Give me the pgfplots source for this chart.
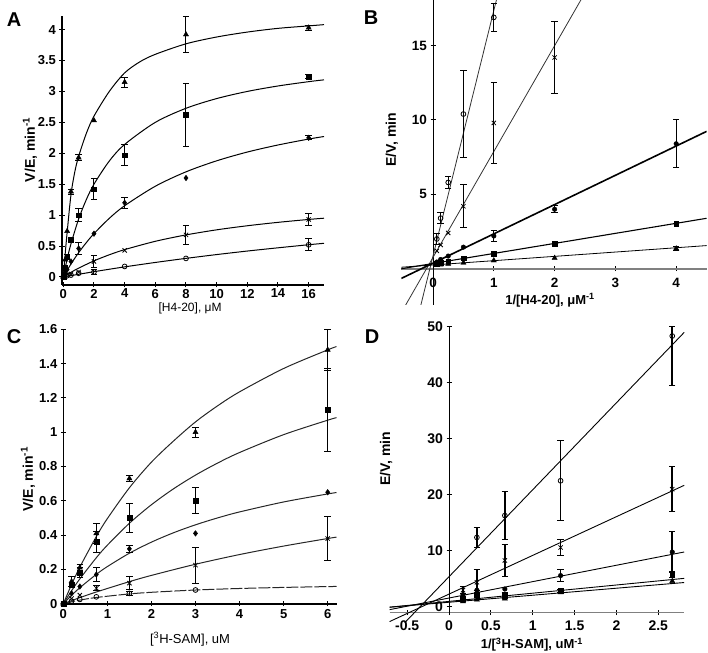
\documentclass[border=0pt]{standalone}
\usepackage{pgfplots}
\pgfplotsset{compat=1.18}
\usepackage{fontspec}
\setmainfont{Liberation Sans}
\pgfplotsset{
  panel/.style={scale only axis, anchor=south west,
    /pgf/number format/assume math mode=true,
    axis line style={-, line width=1.1pt, black},
    tick style={line width=1pt, black}, major tick length=5pt, tick align=outside,
    hide obscured x ticks=false, hide obscured y ticks=false,
  },
  noarrows/.style={every inner x axis line/.append style={-}, every inner y axis line/.append style={-},
    every outer x axis line/.append style={-}, every outer y axis line/.append style={-}},
  errs/.style={only marks, error bars/y dir=both, error bars/y explicit,
    error bars/error bar style={line width=1pt, black},
    error bars/error mark options={line width=1pt, mark size=3.2pt, black, rotate=90}},
  tri/.style={mark=triangle*, mark size=3pt, mark options={fill=black, solid}},
  sq/.style={mark=square*, mark size=2.4pt, mark options={fill=black, solid}},
  dia/.style={mark=diamond*, mark size=2.8pt, mark options={fill=black, solid}},
  dot/.style={mark=*, mark size=2.3pt, mark options={fill=black, solid}},
  xx/.style={mark=x, mark size=3pt, mark options={line width=0.8pt, solid}},
  cir/.style={mark=o, mark size=2.4pt, mark options={fill=white, line width=0.8pt, solid}},
  fit/.style={no marks, smooth, black, line width=1pt},
  seg/.style={no marks, black, line width=0.9pt},
}
\begin{document}
\begin{tikzpicture}[x=1pt,y=1pt]
% ---------------- Panel A ----------------
\begin{axis}[panel, at={(62pt,367pt)}, width=262pt, height=269pt,
  xmin=-0.085, xmax=17, ymin=-0.13, ymax=4.22,
  axis x line=bottom, axis y line=left, noarrows,
  xtick={0,2,4,6,8,10,12,14,16}, xticklabels={0,2,4,6,8,10,12,14,16},
  ytick={0,0.5,1,1.5,2,2.5,3,3.5,4}, yticklabels={0,0.5,1,1.5,2,2.5,3,3.5,4},
  tick label style={font=\bfseries\fontsize{13}{13}\selectfont},
  xticklabel style={yshift=2pt},
  xlabel={[H4-20], μM},
  xlabel style={at={(axis description cs:0.489,-0.088)}, anchor=center, font=\fontsize{12}{12}\selectfont},
  ylabel={V/E, min\textsuperscript{-1}},
  ylabel style={at={(axis description cs:-0.122,0.502)}, anchor=center, font=\bfseries\fontsize{14}{14}\selectfont},
]
\addplot[fit] coordinates {(0,0) (0.125,0.38) (0.25,0.72) (0.5,1.33) (0.75,1.7) (1,1.95) (1.5,2.32) (2,2.6) (3,3.0) (4,3.3) (5,3.48) (6,3.6) (8,3.77) (10,3.88) (12,3.96) (14,4.02) (16,4.06) (17,4.08)};
\addplot[fit] coordinates {(0,0) (0.25,0.2885) (0.5,0.5357) (1,0.9375) (1.5,1.25) (2,1.5) (3,1.875) (4,2.1429) (6,2.5) (8,2.7273) (10,2.8846) (12,3.0) (14,3.0882) (16,3.1579) (17,3.1875)};
\addplot[fit] coordinates {(0,0) (0.5,0.209) (1,0.393) (1.5,0.555) (2,0.7005) (3,0.948) (4,1.152) (6,1.467) (8,1.70) (10,1.878) (12,2.02) (14,2.134) (16,2.23) (17,2.271)};
\addplot[fit] coordinates {(0,0) (0.5,0.075) (1,0.1427) (2,0.260) (3,0.3585) (4,0.442) (6,0.5765) (8,0.680) (10,0.762) (12,0.828) (14,0.883) (16,0.930) (17,0.950)};
\addplot[fit] coordinates {(0,0) (2,0.085) (4,0.163) (6,0.2345) (8,0.3006) (10,0.362) (12,0.419) (14,0.4713) (16,0.521) (17,0.5443)};
% triangles
\addplot[errs,tri] coordinates {(0.5,1.38) +- (0,0.04) (1,1.93) +- (0,0.05) (4,3.15) +- (0,0.08) (8,3.92) +- (0,0.29) (16,4.03) +- (0,0.04)};
\addplot[only marks,tri] coordinates {(0,0) (0.125,0.28) (0.25,0.74) (2,2.53)};
% squares
\addplot[errs,sq] coordinates {(0.25,0.33) +- (0,0.04) (1,1.0) +- (0,0.1) (2,1.42) +- (0,0.17) (4,1.97) +- (0,0.17) (8,2.62) +- (0,0.51) (16,3.24) +- (0,0.03)};
\addplot[only marks,sq] coordinates {(0,0) (0.125,0.15) (0.5,0.6)};
% diamonds
\addplot[errs,dia] coordinates {(1,0.46) +- (0,0.09) (4,1.2) +- (0,0.09) (16,2.25) +- (0,0.03)};
\addplot[only marks,dia] coordinates {(0,0) (0.125,0.07) (0.25,0.12) (0.5,0.25) (2,0.7) (8,1.6)};
% crosses
\addplot[errs,xx] coordinates {(2,0.25) +- (0,0.1) (8,0.68) +- (0,0.15) (16,0.93) +- (0,0.09)};
\addplot[only marks,xx] coordinates {(0,0) (0.125,0.03) (0.25,0.04) (0.5,0.05) (1,0.08) (4,0.43)};
% circles
\addplot[errs,cir] coordinates {(2,0.08) +- (0,0.04) (16,0.52) +- (0,0.1)};
\addplot[only marks,cir] coordinates {(0,0) (0.25,0.02) (0.5,0.03) (1,0.06) (4,0.17) (8,0.3)};
\end{axis}
% ---------------- Panel B ----------------
\begin{axis}[panel, at={(401.4pt,347pt)}, width=305.2pt, height=305pt,
  xmin=-0.52, xmax=4.5, ymin=-2.44, ymax=18.07, axis lines=middle, noarrows,
  x axis line style={gray, line width=1.6pt},
  y axis line style={line width=0.9pt},
  xtick={0,1,2,3,4}, xticklabels={0,1,2,3,4},
  ytick={5,10,15}, yticklabels={5,10,15},
  tick label style={font=\bfseries\fontsize{13.5}{13.5}\selectfont},
  xticklabel style={yshift=-3pt},
  xlabel={1/[H4-20], μM\textsuperscript{-1}},
  xlabel style={at={(axis description cs:0.487,0.016)}, anchor=center, font=\bfseries\fontsize{13}{13}\selectfont},
  ylabel={E/V, min},
  ylabel style={at={(axis description cs:-0.031,0.541)}, anchor=center, rotate=90, font=\bfseries\fontsize{14}{14}\selectfont},
]
\addplot[seg, black!80, line width=0.8pt] coordinates {(-0.2,-2.44) (1.05,18.19)};
\addplot[seg, black!80, line width=0.8pt] coordinates {(-0.45,-2.44) (2.45,18.2)};
\addplot[seg, line width=1.6pt] coordinates {(-0.52,-0.65) (4.5,9.235)};
\addplot[seg, line width=1.1pt] coordinates {(-0.52,0.0) (4.5,3.39)};
\addplot[seg, line width=0.8pt] coordinates {(-0.52,0.1) (4.5,1.555)};
% circles
\addplot[errs,cir] coordinates {(0.0625,2.0) +- (0,0.35) (0.125,3.4) +- (0,0.35) (0.25,5.8) +- (0,0.4) (0.5,10.4) +- (0,2.95) (1,16.9) +- (0,0.95)};
% crosses
\addplot[errs,xx] coordinates {(0.5,4.2) +- (0,1.45) (1,9.8) +- (0,2.7) (2,14.2) +- (0,2.4)};
\addplot[only marks,xx] coordinates {(0.0625,1.2) (0.125,1.6) (0.25,2.4)};
% filled circles
\addplot[errs,dot] coordinates {(1,2.2) +- (0,0.4) (2,4.0) +- (0,0.25) (4,8.4) +- (0,1.6)};
\addplot[only marks,dot] coordinates {(0.0625,0.45) (0.125,0.62) (0.25,0.85) (0.5,1.45)};
% squares
\addplot[only marks,sq] coordinates {(0.0625,0.31) (0.125,0.38) (0.25,0.5) (0.5,0.7) (1,1.0) (2,1.67) (4,3.0)};
% triangles
\addplot[errs,tri] coordinates {(4,1.35) +- (0,0.12)};
\addplot[only marks,tri] coordinates {(0.0625,0.25) (0.125,0.27) (0.25,0.32) (0.5,0.4) (1,0.55) (2,0.72)};
\end{axis}
% ---------------- Panel C ----------------
\begin{axis}[panel, at={(63.3pt,48.3pt)}, width=273.2pt, height=274.4pt,
  xmin=0, xmax=6.2, ymin=0, ymax=1.6,
  axis x line=bottom, axis y line=left, noarrows,
  x axis line style={line width=2pt},
  xtick={0,1,2,3,4,5,6}, xticklabels={0,1,2,3,4,5,6},
  ytick={0,0.2,0.4,0.6,0.8,1,1.2,1.4,1.6}, yticklabels={0,0.2,0.4,0.6,0.8,1,1.2,1.4,1.6},
  tick label style={font=\bfseries\fontsize{13}{13}\selectfont},
  xlabel={[\textsuperscript{3}H-SAM], uM},
  xlabel style={at={(axis description cs:0.464,-0.129)}, anchor=center, font=\fontsize{13}{13}\selectfont},
  ylabel={V/E, min\textsuperscript{-1}},
  ylabel style={at={(axis description cs:-0.129,0.454)}, anchor=center, font=\bfseries\fontsize{14}{14}\selectfont},
]
\addplot[fit, black!85] coordinates {(0,0) (0.1875,0.1114) (0.375,0.2131) (0.75,0.392) (1,0.4963) (1.5,0.676) (2,0.8254) (2.5,0.9484) (3,1.06) (3.5,1.1535) (4,1.2353) (5,1.3714) (6,1.48) (6.2,1.4993)};
\addplot[fit, black!85] coordinates {(0,0) (0.1875,0.0752) (0.375,0.1446) (0.75,0.2682) (1,0.3413) (1.5,0.469) (2,0.5771) (2.5,0.6697) (3,0.7498) (3.5,0.8198) (4,0.8816) (5,0.9857) (6,1.07) (6.2,1.0848)};
\addplot[fit, black!85] coordinates {(0,0) (0.1875,0.0488) (0.375,0.0932) (0.75,0.1712) (1,0.2165) (1.5,0.2944) (2,0.359) (2.5,0.4135) (3,0.46) (3.5,0.5001) (4,0.5351) (5,0.5932) (6,0.64) (6.2,0.648)};
\addplot[fit, black!85] coordinates {(0,0) (0.375,0.0353) (0.75,0.0683) (1.5,0.1286) (2,0.165) (3,0.23) (4,0.2866) (5,0.336) (6,0.38) (6.2,0.3882)};
\addplot[fit, black!85, dashed, dash pattern=on 12pt off 2pt] coordinates {(0,0) (0.1875,0.0114) (0.375,0.021) (0.75,0.0363) (1.5,0.057) (2,0.0665) (3,0.0798) (4,0.0887) (5,0.095) (6,0.09975) (6.2,0.1006)};
% triangles
\addplot[errs,tri] coordinates {(0.1875,0.13) +- (0,0.03) (0.375,0.21) +- (0,0.02) (0.75,0.41) +- (0,0.06) (1.5,0.73) +- (0,0.02) (3,1.0) +- (0,0.03) (6,1.48) +- (0,0.12)};
\addplot[only marks,tri] coordinates {(0,0)};
% squares
\addplot[errs,sq] coordinates {(0.375,0.18) +- (0,0.03) (0.75,0.36) +- (0,0.06) (1.5,0.5) +- (0,0.085) (3,0.6) +- (0,0.075) (6,1.13) +- (0,0.24)};
\addplot[only marks,sq] coordinates {(0,0) (0.1875,0.11)};
% diamonds
\addplot[errs,dia] coordinates {(0.75,0.17) +- (0,0.04) (1.5,0.32) +- (0,0.02)};
\addplot[only marks,dia] coordinates {(0,0) (0.1875,0.06) (0.375,0.1) (3,0.41) (6,0.65)};
% crosses
\addplot[errs,xx] coordinates {(0.75,0.09) +- (0,0.015) (1.5,0.12) +- (0,0.04) (3,0.225) +- (0,0.105) (6,0.38) +- (0,0.13)};
\addplot[only marks,xx] coordinates {(0,0) (0.1875,0.03) (0.375,0.05)};
% circles
\addplot[errs,cir] coordinates {(1.5,0.06) +- (0,0.01)};
\addplot[only marks,cir] coordinates {(0,0) (0.1875,0.015) (0.375,0.025) (0.75,0.04) (3,0.08)};
\end{axis}
% ---------------- Panel D ----------------
\begin{axis}[panel, at={(389.6pt,39.4pt)}, width=294.6pt, height=286.1pt, clip=false,
  xmin=-0.71, xmax=2.81, ymin=-1, ymax=50,
  axis x line=bottom, axis y line=middle, noarrows,
  x axis line style={gray, line width=1.6pt},
  y axis line style={line width=1pt},
  xtick={-0.5,0,0.5,1,1.5,2,2.5}, xticklabels={-0.5,0,0.5,1,1.5,2,2.5},
  ytick={0,10,20,30,40,50}, yticklabels={0,10,20,30,40,50},
  tick label style={font=\bfseries\fontsize{14}{14}\selectfont},
  xticklabel style={yshift=-2pt},
  xlabel={1/[\textsuperscript{3}H-SAM], uM\textsuperscript{-1}},
  xlabel style={at={(axis description cs:0.483,-0.112)}, anchor=center, font=\bfseries\fontsize{13}{13}\selectfont},
  ylabel={E/V, min},
  ylabel style={at={(axis description cs:-0.012,0.537)}, anchor=center, rotate=90, font=\bfseries\fontsize{14}{14}\selectfont},
]
\addplot[seg] coordinates {(-0.53,-2.815) (2.81,48.955)};
\addplot[seg] coordinates {(-0.71,-2.599) (2.81,21.689)};
\addplot[seg] coordinates {(-0.71,-0.473) (2.81,9.805)};
\addplot[seg] coordinates {(-0.71,-0.037) (2.81,5.103)};
\addplot[seg] coordinates {(-0.71,-0.04) (2.81,4.36)};
% circles
\addplot[errs,cir, error bars/error bar style={line width=1.5pt}] coordinates {(0.333,12.4) +- (0,1.8) (0.667,16.3) +- (0,4.3) (1.333,22.5) +- (0,7.1) (2.667,48.3) += (0,1.7) -= (0,8.9)};
% crosses
\addplot[errs,xx, error bars/error bar style={line width=1.5pt}] coordinates {(0.167,3.0) +- (0,0.6) (0.333,4.4) +- (0,2.2) (0.667,8.3) +- (0,2.9) (1.333,10.6) +- (0,1.5) (2.667,21.0) +- (0,4.0)};
% filled circles
\addplot[errs,dot, error bars/error bar style={line width=1.5pt}] coordinates {(1.333,5.6) +- (0,1.0) (2.667,9.8) +- (0,3.6)};
\addplot[only marks,dot] coordinates {(0.167,2.2) (0.333,3.0) (0.667,3.2)};
% squares
\addplot[errs,sq, error bars/error bar style={line width=1.5pt}] coordinates {(0.333,2.2) +- (0,0.8) (0.667,2.0) +- (0,0.5) (1.333,2.9) +- (0,0.3) (2.667,5.8) +- (0,0.6)};
\addplot[only marks,sq] coordinates {(0.167,1.5)};
% triangles
\addplot[only marks,tri] coordinates {(0.167,1.0) (0.333,1.3) (0.667,1.5) (1.333,2.6) (2.667,4.6)};
\end{axis}
% panel letters
\node[font=\bfseries\fontsize{20}{20}\selectfont] at (14,632) {A};
\node[font=\bfseries\fontsize{20}{20}\selectfont] at (371,634) {B};
\node[font=\bfseries\fontsize{20}{20}\selectfont] at (14,315) {C};
\node[font=\bfseries\fontsize{20}{20}\selectfont] at (372,315) {D};
\pgfresetboundingbox
\useasboundingbox (0,0) rectangle (708,652);
\end{tikzpicture}
\end{document}
